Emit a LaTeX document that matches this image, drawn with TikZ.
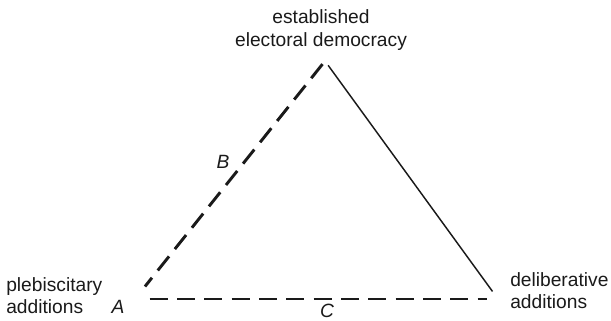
\documentclass[tikz,border=0pt]{standalone}
\usepackage{fontspec}
\setmainfont{Liberation Sans}
\usetikzlibrary{positioning}
\definecolor{ink}{HTML}{1A1A1A}

\begin{document}
\begin{tikzpicture}[x=0.75pt,y=-0.75pt,font=\fontsize{14.4}{16.6}\selectfont,
  dashside/.style={ink,line width=2.2pt,dash pattern=on 13.5pt off 7pt},
  solidside/.style={ink,line width=1.1pt},
  corner/.style={align=left,color=ink,inner sep=0pt}]
  \useasboundingbox (0,0) rectangle (611,321);
  % corners of the triangle
  \coordinate (apex) at (325,61);
  \coordinate (plebi) at (135,299);
  \coordinate (delib) at (498,299);
  % sides
  \draw[dashside,shorten <=3pt,shorten >=12pt] (apex) -- (plebi);
  \draw[dashside,shorten <=11pt,shorten >=8pt] (plebi) -- (delib);
  \draw[solidside,shorten <=4pt,shorten >=7pt] (apex) -- (delib);
  % corner labels
  \node[corner,align=center] (estab) at (321,30) {established\\electoral democracy};
  \node[corner,anchor=west] (pleblab) at (6,296) {plebiscitary\\additions};
  \node[corner,anchor=west] (deliblab) at (510,291) {deliberative\\additions};
  % side letters
  \node[color=ink] (lA) at (118,307) {\itshape A};
  \node[color=ink] (lB) at (223,162) {\itshape B};
  \node[color=ink] (lC) at (327,311) {\itshape C};
\end{tikzpicture}
\end{document}
